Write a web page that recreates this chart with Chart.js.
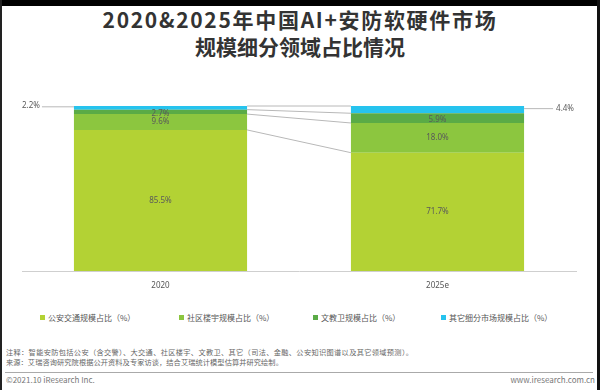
<!DOCTYPE html>
<html>
<head>
<meta charset="utf-8">
<script src="https://cdn.jsdelivr.net/npm/chart.js@4"></script>
<style>
  html,body{margin:0;padding:0;background:#fff;}
  #wrap{position:relative;width:600px;height:390px;overflow:hidden;background:#fff;font-family:"Noto Sans CJK SC","Noto Sans",sans-serif;}
  #frameTop{position:absolute;left:0;top:0;width:600px;height:6px;background:#000;}
  #frameL{position:absolute;left:0;top:0;width:2px;height:390px;background:#222;}
  #frameR{position:absolute;right:0;top:0;width:3px;height:390px;background:#111;}
  #title{position:absolute;left:0;top:6px;width:600px;text-align:center;font-weight:bold;font-size:21px;line-height:27px;color:#333;}
  #title .l1{letter-spacing:1.7px;}
  #chartBox{position:absolute;left:0;top:60px;width:600px;height:240px;}
  #legend{position:absolute;left:0;top:311px;width:600px;height:14px;}
  .li{position:absolute;top:0;font-size:8px;line-height:14px;color:#555;white-space:nowrap;}
  .li i{display:inline-block;width:5px;height:5px;margin-right:3px;vertical-align:1px;}
  .note{position:absolute;left:6px;font-size:7.2px;line-height:10px;color:#666;white-space:nowrap;}
  #rule{position:absolute;left:5px;top:372px;width:588px;height:1px;background:#aaa;}
  .foot{position:absolute;top:375px;font-size:8px;line-height:10px;color:#777;white-space:nowrap;}
</style>
</head>
<body>
<div id="wrap">
  <div id="frameTop"></div><div id="frameL"></div><div id="frameR"></div>
  <div id="title"><span class="l1">2020&amp;2025年中国AI+安防软硬件市场</span><br>规模细分领域占比情况</div>
  <div id="chartBox"><canvas id="c" width="600" height="240"></canvas></div>
  <div id="legend"></div>
  <div class="note" style="top:347px;letter-spacing:0.35px;">注释：智能安防包括公安（含交警）、大交通、社区楼宇、文教卫、其它（司法、金融、公安知识图谱以及其它领域预测）。</div>
  <div class="note" style="top:357px;letter-spacing:0.1px;">来源：艾瑞咨询研究院根据公开资料及专家访谈，结合艾瑞统计模型估算并研究绘制。</div>
  <div id="rule"></div>
  <div class="foot" style="left:6px;">©2021.10 iResearch Inc.</div>
  <div class="foot" style="right:5px;">www.iresearch.com.cn</div>
</div>
<script>
const categories = ['2020', '2025e'];
const seriesNames = ['公安交通规模占比（%）', '社区楼宇规模占比（%）', '文教卫规模占比（%）', '其它细分市场规模占比（%）'];
const publicTraffic = [85.5, 71.7];
const communityBuilding = [9.6, 18.0];
const cultureEduHealth = [2.7, 5.9];
const otherMarkets = [2.2, 4.4];
const seriesColors = ['#b3d234', '#8cc63f', '#5aab46', '#26c3ee'];
const legendX = [40, 179, 313, 441];

const seriesData = [publicTraffic, communityBuilding, cultureEduHealth, otherMarkets];

// HTML legend
const lg = document.getElementById('legend');
seriesNames.forEach((n, i) => {
  const d = document.createElement('div');
  d.className = 'li';
  d.style.left = legendX[i] + 'px';
  d.innerHTML = '<i style="background:' + seriesColors[i] + '"></i>' + n;
  lg.appendChild(d);
});

const decorPlugin = {
  id: 'decor',
  afterDatasetsDraw(chart) {
    const ctx = chart.ctx;
    const y = chart.scales.y;
    const m0 = chart.getDatasetMeta(0);
    const b0 = m0.data[0], b1 = m0.data[1];
    const r0 = b0.x + b0.width / 2;
    const l1 = b1.x - b1.width / 2;
    const l0 = b0.x - b0.width / 2;
    const r1 = b1.x + b1.width / 2;
    ctx.save();
    ctx.strokeStyle = '#b8b8b8';
    ctx.lineWidth = 1;
    let c0 = 0, c1 = 0;
    seriesData.forEach(arr => {
      c0 += arr[0]; c1 += arr[1];
      ctx.beginPath();
      ctx.moveTo(r0, y.getPixelForValue(c0));
      ctx.lineTo(l1, y.getPixelForValue(c1));
      ctx.stroke();
    });
    ctx.fillStyle = '#5a5a5a';
    ctx.font = '8px "Noto Sans", "Noto Sans CJK SC", sans-serif';
    ctx.textAlign = 'center';
    ctx.textBaseline = 'middle';
    for (let d = 0; d < 3; d++) {
      const meta = chart.getDatasetMeta(d);
      meta.data.forEach((bar, i) => {
        const v = seriesData[d][i];
        const cy = (bar.y + bar.base) / 2 + (d === 2 ? 1.5 : 0);
        ctx.fillText(v.toFixed(1) + '%', bar.x, cy);
      });
    }
    const mid0 = y.getPixelForValue(100 - otherMarkets[0] / 2);
    const mid1 = y.getPixelForValue(100 - otherMarkets[1] / 2);
    ctx.beginPath();
    ctx.moveTo(l0, mid0 - 1); ctx.lineTo(l0 - 32, mid0 - 1); ctx.stroke();
    ctx.beginPath();
    ctx.moveTo(r1, mid1 - 1); ctx.lineTo(r1 + 29, mid1 - 1); ctx.stroke();
    ctx.textAlign = 'right';
    ctx.fillText(otherMarkets[0].toFixed(1) + '%', l0 - 34, mid0 - 2);
    ctx.textAlign = 'left';
    ctx.fillText(otherMarkets[1].toFixed(1) + '%', r1 + 32, mid1 - 1);
    ctx.restore();
  }
};

new Chart(document.getElementById('c'), {
  type: 'bar',
  data: {
    labels: categories,
    datasets: seriesNames.map((n, i) => ({
      label: n,
      data: seriesData[i],
      backgroundColor: seriesColors[i],
      borderWidth: 0,
      barPercentage: 0.625,
      categoryPercentage: 1
    }))
  },
  options: {
    responsive: false,
    animation: false,
    events: [],
    layout: { padding: { left: 22, right: 24, top: 46, bottom: 5 } },
    plugins: { legend: { display: false }, tooltip: { enabled: false } },
    scales: {
      x: {
        stacked: true,
        grid: { display: false, drawTicks: false },
        border: { display: true, color: '#cfcfcf', width: 1 },
        ticks: { padding: 10, color: '#555', font: { size: 8, family: '"Noto Sans", sans-serif' } },
        afterFit(scale) { scale.height = 24; }
      },
      y: { stacked: true, display: false, min: 0, max: 100 }
    }
  },
  plugins: [decorPlugin]
});
</script>
</body>
</html>
